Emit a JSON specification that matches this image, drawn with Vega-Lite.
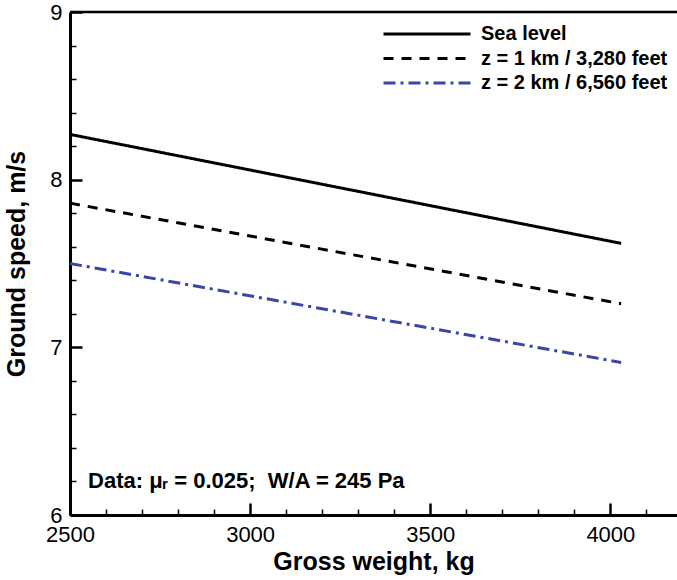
{
  "$schema": "https://vega.github.io/schema/vega-lite/v6.json",
  "width": 607,
  "height": 503,
  "autosize": {"type": "none"},
  "padding": {"left": 70, "top": 12, "right": 0, "bottom": 65},
  "background": "white",
  "config": {
    "view": {"stroke": null},
    "font": "Liberation Sans",
    "axis": {
      "grid": false,
      "domainColor": "black",
      "domainWidth": 3,
      "tickColor": "black",
      "labelColor": "black",
      "labelFontSize": 22,
      "labelFont": "Liberation Sans",
      "titleColor": "black",
      "titleFont": "Liberation Sans",
      "titleFontWeight": "bold",
      "labelOverlap": false,
      "labelFlush": false
    }
  },
  "resolve": {"axis": {"x": "independent", "y": "independent"}},
  "layer": [
    {
      "data": {
        "values": [
          {"weight": 2500, "speed": 8.27, "series": "Sea level"},
          {"weight": 4030, "speed": 7.62, "series": "Sea level"},
          {"weight": 2500, "speed": 7.86, "series": "z = 1 km / 3,280 feet"},
          {"weight": 4030, "speed": 7.26, "series": "z = 1 km / 3,280 feet"},
          {"weight": 2500, "speed": 7.50, "series": "z = 2 km / 6,560 feet"},
          {"weight": 4030, "speed": 6.91, "series": "z = 2 km / 6,560 feet"}
        ]
      },
      "mark": {"type": "line", "strokeWidth": 3, "strokeCap": "butt"},
      "encoding": {
        "x": {
          "field": "weight",
          "type": "quantitative",
          "scale": {"domain": [2500, 4185], "nice": false, "zero": false},
          "axis": {
            "orient": "bottom",
            "title": "Gross weight, kg",
            "titleFontSize": 25,
            "titlePadding": 4,
            "format": "d",
            "values": [2500, 3000, 3500, 4000],
            "tickSize": -12,
            "tickWidth": 2.5,
            "labelPadding": 21
          }
        },
        "y": {
          "field": "speed",
          "type": "quantitative",
          "scale": {"domain": [6, 9], "nice": false, "zero": false},
          "axis": {
            "orient": "left",
            "title": "Ground speed, m/s",
            "titleFontSize": 25,
            "titlePadding": 20,
            "format": "d",
            "values": [6, 7, 8, 9],
            "tickSize": -12,
            "tickWidth": 2.5,
            "labelPadding": 20
          }
        },
        "color": {
          "field": "series",
          "type": "nominal",
          "scale": {
            "domain": ["Sea level", "z = 1 km / 3,280 feet", "z = 2 km / 6,560 feet"],
            "range": ["#000000", "#000000", "#3b45a8"]
          },
          "legend": {
            "title": null,
            "orient": "none",
            "legendX": 312,
            "legendY": 12,
            "padding": 0,
            "symbolType": "stroke",
            "symbolSize": 7569,
            "symbolStrokeWidth": 3,
            "clipHeight": 20,
            "rowPadding": 4.5,
            "labelFontSize": 20,
            "labelFontWeight": "bold",
            "labelColor": "black",
            "labelOffset": 9,
            "labelLimit": 400
          }
        },
        "strokeDash": {
          "field": "series",
          "type": "nominal",
          "scale": {
            "domain": ["Sea level", "z = 1 km / 3,280 feet", "z = 2 km / 6,560 feet"],
            "range": [[1, 0], [10, 8], [12, 5, 3, 5]]
          },
          "legend": {
            "title": null,
            "orient": "none",
            "legendX": 312,
            "legendY": 12,
            "padding": 0,
            "symbolType": "stroke",
            "symbolSize": 7569,
            "symbolStrokeWidth": 3,
            "clipHeight": 20,
            "rowPadding": 4.5,
            "labelFontSize": 20,
            "labelFontWeight": "bold",
            "labelColor": "black",
            "labelOffset": 9,
            "labelLimit": 400
          }
        }
      }
    },
    {
      "data": {"values": [{"weight": 2500, "speed": 6}]},
      "mark": {"type": "point", "opacity": 0},
      "encoding": {
        "x": {
          "field": "weight",
          "type": "quantitative",
          "axis": {
            "orient": "bottom",
            "title": null,
            "labels": false,
            "domain": false,
            "values": [2600, 2700, 2800, 2900, 3100, 3200, 3300, 3400, 3600, 3700, 3800, 3900, 4100],
            "tickSize": -6,
            "tickWidth": 1.5
          }
        },
        "y": {
          "field": "speed",
          "type": "quantitative",
          "axis": {
            "orient": "left",
            "title": null,
            "labels": false,
            "domain": false,
            "values": [6.2, 6.4, 6.6, 6.8, 7.2, 7.4, 7.6, 7.8, 8.2, 8.4, 8.6, 8.8],
            "tickSize": -6,
            "tickWidth": 1.5
          }
        }
      }
    },
    {
      "data": {"values": [{"top": 9}]},
      "mark": {"type": "rule", "strokeWidth": 2.5, "color": "black"},
      "encoding": {"y": {"field": "top", "type": "quantitative", "axis": null}}
    },
    {
      "data": {"values": [{"weight": 2550, "speed": 6.16, "note": "Data: μᵣ = 0.025;\u00a0 W/A = 245 Pa"}]},
      "mark": {"type": "text", "align": "left", "baseline": "alphabetic", "fontSize": 22, "fontWeight": "bold", "color": "black", "font": "Liberation Sans"},
      "encoding": {
        "x": {"field": "weight", "type": "quantitative", "axis": null},
        "y": {"field": "speed", "type": "quantitative", "axis": null},
        "text": {"field": "note"}
      }
    }
  ]
}
